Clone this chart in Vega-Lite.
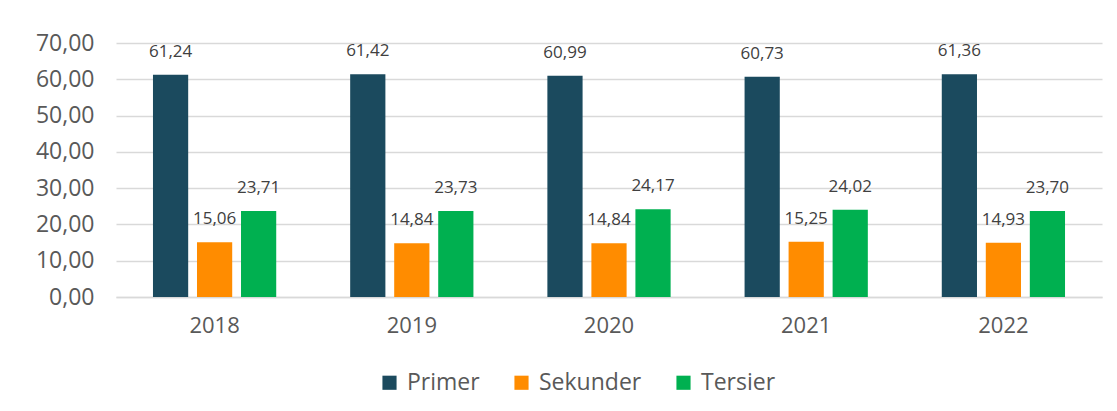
{
  "$schema": "https://vega.github.io/schema/vega-lite/v6.json",
  "width": 986,
  "height": 254,
  "autosize": "none",
  "padding": {"left": 116, "top": 43, "right": 15, "bottom": 114},
  "background": "white",
  "config": {
    "font": "Open Sans",
    "view": {"stroke": null},
    "locale": {"number": {"decimal": ",", "thousands": ".", "grouping": [3], "currency": ["", ""]}}
  },
  "data": {
    "values": [
      {"tahun": "2018", "sektor": "Primer", "nilai": 61.24},
      {"tahun": "2018", "sektor": "Sekunder", "nilai": 15.06},
      {"tahun": "2018", "sektor": "Tersier", "nilai": 23.71},
      {"tahun": "2019", "sektor": "Primer", "nilai": 61.42},
      {"tahun": "2019", "sektor": "Sekunder", "nilai": 14.84},
      {"tahun": "2019", "sektor": "Tersier", "nilai": 23.73},
      {"tahun": "2020", "sektor": "Primer", "nilai": 60.99},
      {"tahun": "2020", "sektor": "Sekunder", "nilai": 14.84},
      {"tahun": "2020", "sektor": "Tersier", "nilai": 24.17},
      {"tahun": "2021", "sektor": "Primer", "nilai": 60.73},
      {"tahun": "2021", "sektor": "Sekunder", "nilai": 15.25},
      {"tahun": "2021", "sektor": "Tersier", "nilai": 24.02},
      {"tahun": "2022", "sektor": "Primer", "nilai": 61.36},
      {"tahun": "2022", "sektor": "Sekunder", "nilai": 14.93},
      {"tahun": "2022", "sektor": "Tersier", "nilai": 23.70}
    ]
  },
  "encoding": {
    "x": {
      "field": "tahun", "type": "nominal",
      "scale": {"paddingInner": 0.375, "paddingOuter": 0.1875},
      "axis": {"title": null, "labelAngle": 0, "labelFontSize": 22, "labelColor": "#595959", "labelPadding": 18, "ticks": false, "domainColor": "#D9D9D9", "domainWidth": 1.5}
    },
    "xOffset": {"field": "sektor", "type": "nominal", "scale": {"paddingInner": 0.2, "paddingOuter": 0}},
    "y": {
      "field": "nilai", "type": "quantitative",
      "scale": {"domain": [0, 70]},
      "axis": {"title": null, "values": [0, 10, 20, 30, 40, 50, 60, 70], "format": ".2f", "labelFontSize": 23, "labelColor": "#595959", "labelPadding": 22, "ticks": false, "domain": false, "gridColor": "#D9D9D9", "gridWidth": 1.5}
    }
  },
  "layer": [
    {
      "mark": {"type": "bar"},
      "encoding": {
        "color": {
          "field": "sektor", "type": "nominal",
          "scale": {"domain": ["Primer", "Sekunder", "Tersier"], "range": ["#1B4A5E", "#FF8C00", "#00B050"]},
          "legend": {"title": null, "orient": "none", "direction": "horizontal", "legendX": 262, "legendY": 328, "labelFontSize": 23, "labelColor": "#595959", "symbolType": "square", "symbolSize": 200, "symbolStrokeWidth": 0, "columnPadding": 30, "labelOffset": 6}
        }
      }
    },
    {
      "mark": {"type": "text", "baseline": "bottom", "dy": -14, "fontSize": 17, "color": "#404040"},
      "encoding": {
        "text": {"field": "nilai", "type": "quantitative", "format": ".2f"}
      }
    }
  ]
}
